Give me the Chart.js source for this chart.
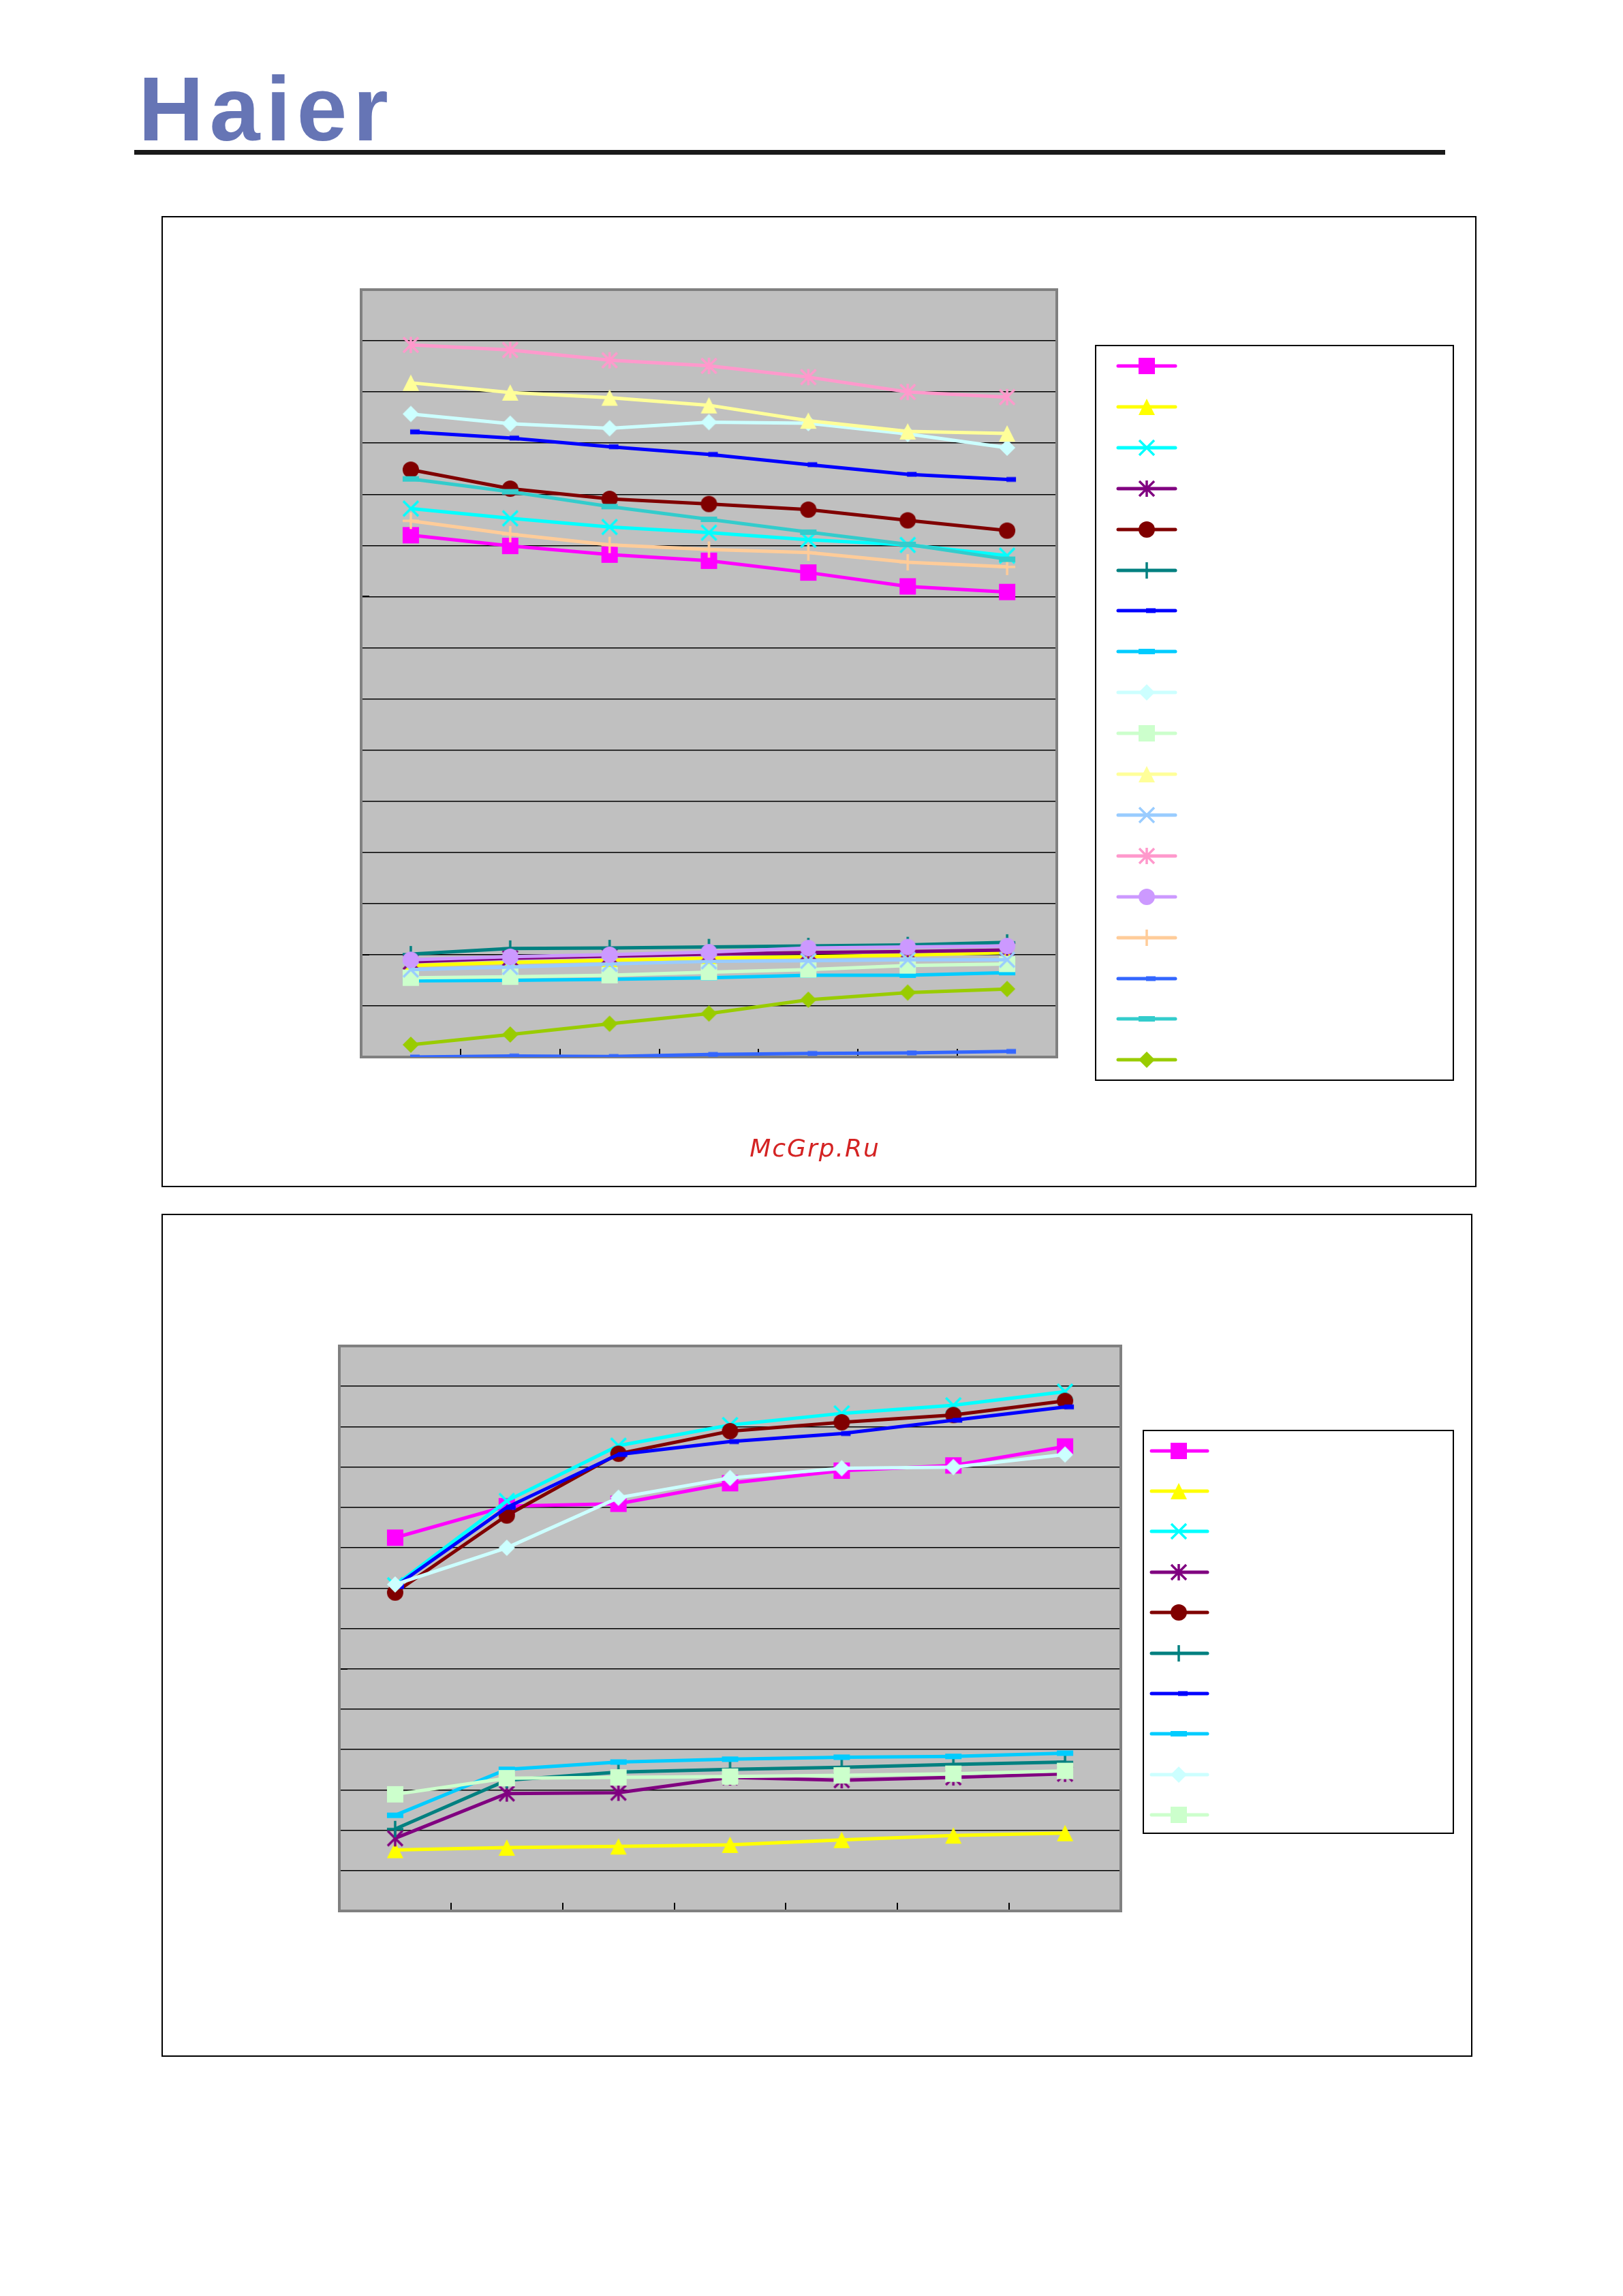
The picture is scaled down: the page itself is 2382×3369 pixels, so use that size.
<!DOCTYPE html>
<html>
<head>
<meta charset="utf-8">
<title>Haier performance curves</title>
<script src="https://cdn.jsdelivr.net/npm/chart.js@4.4.1/dist/chart.umd.min.js"></script>
<style>
  html, body { margin: 0; padding: 0; background: #fff; }
  body { width: 2382px; height: 3369px; position: relative; overflow: hidden; }
  .logo {
    position: absolute; left: 203px; top: 94px;
    font: bold 133px/133px "Liberation Sans", Arial, sans-serif;
    color: #6675B5; letter-spacing: 8.5px;
  }
  .rule { position: absolute; left: 197px; top: 220px; width: 1924px; height: 7px; background: #1a1a1a; }
  .frame { position: absolute; border: 2px solid #000; box-sizing: border-box; }
  canvas { position: absolute; }
  .mark {
    position: absolute; left: 996px; top: 1667px; width: 400px; text-align: center;
    font: oblique 36px/36px "DejaVu Sans", sans-serif; color: #D42323; letter-spacing: 2px;
  }
</style>
</head>
<body>
<div class="logo">Haier</div>
<div class="rule"></div>

<div class="frame" style="left:237px;top:317px;width:1930px;height:1425px"></div>
<canvas id="chart-top" width="1930" height="1425" style="left:237px;top:317px"></canvas>
<div class="mark">McGrp.Ru</div>

<div class="frame" style="left:237px;top:1781px;width:1924px;height:1237px"></div>
<canvas id="chart-bottom" width="1924" height="1237" style="left:237px;top:1781px"></canvas>

<script>
/* ── x categories (no labels are printed in the source) ── */
const categories = ['1', '2', '3', '4', '5', '6', '7'];

/* ── upper chart: 18 series, legend order ── */
const topMagenta     = [1020, 999, 982, 970, 947, 920, 909];
const topYellow      = [179, 185, 189, 193, 196, 199, 204];
const topCyan        = [1072, 1053, 1036, 1025, 1011, 1001, 980];
const topPurple      = [186, 193, 197, 201, 204, 206, 209];
const topDarkRed     = [1148, 1111, 1091, 1081, 1070, 1049, 1029];
const topTeal        = [201, 212, 213, 215, 217, 219, 224];
const topBlue        = [1222, 1210, 1193, 1178, 1158, 1139, 1129];
const topSkyBlue     = [149, 150, 152, 155, 160, 160, 165];
const topLightCyan   = [1257, 1238, 1229, 1241, 1239, 1218, 1191];
const topLightGreen  = [155, 157, 160, 166, 171, 179, 182];
const topLightYellow = [1318, 1299, 1289, 1274, 1244, 1223, 1219];
const topLightBlue   = [171, 176, 182, 187, 188, 190, 190];
const topPink        = [1392, 1382, 1362, 1351, 1329, 1300, 1290];
const topLavender    = [190, 196, 200, 205, 213, 215, 217];
const topPeach       = [1048, 1022, 1001, 992, 986, 967, 958];
const topRoyalBlue   = [0, 2, 1, 5, 7, 8, 11];
const topTurquoise   = [1130, 1105, 1076, 1051, 1026, 1002, 973];
const topYellowGreen = [24, 44, 65, 85, 112, 126, 133];

/* ── lower chart: 10 series ── */
const botMagenta    = [925, 1003, 1009, 1060, 1091, 1104, 1151];
const botYellow     = [151, 157, 160, 164, 176, 187, 193];
const botCyan       = [807, 1016, 1153, 1204, 1233, 1253, 1287];
const botPurple     = [180, 291, 293, 331, 324, 331, 340];
const botDarkRed    = [789, 980, 1133, 1189, 1211, 1229, 1264];
const botTeal       = [203, 324, 344, 351, 356, 363, 369];
const botBlue       = [804, 1000, 1131, 1163, 1183, 1216, 1249];
const botSkyBlue    = [237, 351, 369, 376, 381, 383, 391];
const botLightCyan  = [809, 900, 1024, 1073, 1097, 1100, 1131];
const botLightGreen = [289, 329, 331, 333, 336, 340, 347];

/* ── Excel default series palette + marker cycle ── */
const seriesColors = ['#FF00FF', '#FFFF00', '#00FFFF', '#800080', '#800000', '#008080',
                      '#0000FF', '#00CCFF', '#CCFFFF', '#CCFFCC', '#FFFF99', '#99CCFF',
                      '#FF99CC', '#CC99FF', '#FFCC99', '#3366FF', '#33CCCC', '#99CC00'];
const seriesMarkers = ['square', 'triangle', 'x', 'star', 'circle', 'plus', 'bar', 'dash', 'diamond',
                       'square', 'triangle', 'x', 'star', 'circle', 'plus', 'bar', 'dash', 'diamond'];

/* ── marker glyphs as small canvases (Chart.js centres them on the point) ── */
function makeMarker(kind, color) {
  const c = document.createElement('canvas');
  c.width = 30; c.height = 28;
  const g = c.getContext('2d');
  const cx = 15, cy = 14, h = 12;
  g.fillStyle = color; g.strokeStyle = color; g.lineWidth = 3.5;
  g.beginPath();
  switch (kind) {
    case 'square':   g.rect(cx - h, cy - h, 2 * h, 2 * h); g.fill(); break;
    case 'triangle': g.moveTo(cx, cy - h); g.lineTo(cx + h, cy + h); g.lineTo(cx - h, cy + h); g.closePath(); g.fill(); break;
    case 'diamond':  g.moveTo(cx, cy - h); g.lineTo(cx + h, cy); g.lineTo(cx, cy + h); g.lineTo(cx - h, cy); g.closePath(); g.fill(); break;
    case 'circle':   g.arc(cx, cy, h, 0, Math.PI * 2); g.fill(); break;
    case 'x':
      g.moveTo(cx - h + 1, cy - h + 1); g.lineTo(cx + h - 1, cy + h - 1);
      g.moveTo(cx + h - 1, cy - h + 1); g.lineTo(cx - h + 1, cy + h - 1); g.stroke(); break;
    case 'star':
      g.moveTo(cx - h + 1, cy - h + 1); g.lineTo(cx + h - 1, cy + h - 1);
      g.moveTo(cx + h - 1, cy - h + 1); g.lineTo(cx - h + 1, cy + h - 1);
      g.moveTo(cx, cy - h); g.lineTo(cx, cy + h); g.stroke(); break;
    case 'plus':
      g.moveTo(cx, cy - h); g.lineTo(cx, cy + h);
      g.moveTo(cx - h, cy); g.lineTo(cx + h, cy); g.stroke(); break;
    case 'bar':      g.rect(cx - 1, cy - 3.5, 14, 7); g.fill(); break;
    case 'dash':     g.rect(cx - 12, cy - 4, 24, 8); g.fill(); break;
  }
  return c;
}

function buildDatasets(series, width) {
  return series.map((data, i) => ({
    data,
    borderColor: seriesColors[i],
    backgroundColor: seriesColors[i],
    borderWidth: width,
    pointStyle: makeMarker(seriesMarkers[i], seriesColors[i]),
    pointRadius: 12,
    pointHoverRadius: 12,
    tension: 0,
    fill: false,
    order: series.length - i,   // later series drawn on top, as in Excel
  }));
}

/* ── grey plot area, inside tick marks, plot border ── */
const plotFrame = {
  id: 'plotFrame',
  beforeDraw(chart) {
    const { ctx, chartArea: a } = chart;
    ctx.save();
    ctx.fillStyle = '#C0C0C0';
    ctx.fillRect(a.left, a.top, a.width, a.height);
    ctx.restore();
  },
  beforeDatasetsDraw(chart, args, opts) {
    const { ctx, chartArea: a, scales: { x, y } } = chart;
    ctx.save();
    ctx.strokeStyle = '#000';
    ctx.lineWidth = 2;
    ctx.beginPath();
    for (let i = 1; i < categories.length; i++) {
      const px = Math.round((x.getPixelForValue(i - 1) + x.getPixelForValue(i)) / 2);
      ctx.moveTo(px, a.bottom);
      ctx.lineTo(px, a.bottom - 12);
    }
    (opts.yTicks || []).forEach(v => {
      const py = Math.round(y.getPixelForValue(v));
      ctx.moveTo(a.left, py);
      ctx.lineTo(a.left + 12, py);
    });
    ctx.stroke();
    ctx.strokeStyle = '#808080';
    ctx.lineWidth = 4;
    ctx.strokeRect(a.left, a.top, a.width, a.height);
    ctx.restore();
  },
};

/* ── framed legend without labels (the source prints none) ── */
const boxLegend = {
  id: 'boxLegend',
  afterDraw(chart, args, o) {
    const ctx = chart.ctx;
    ctx.save();
    ctx.strokeStyle = '#000';
    ctx.lineWidth = 2;
    ctx.strokeRect(o.left, o.top, o.width, o.height);
    chart.data.datasets.forEach((ds, i) => {
      const cy = Math.round(o.firstY + i * o.step);
      ctx.strokeStyle = ds.borderColor;
      ctx.lineWidth = ds.borderWidth;
      ctx.lineCap = 'round';
      ctx.beginPath();
      ctx.moveTo(o.lineX0, cy);
      ctx.lineTo(o.lineX1, cy);
      ctx.stroke();
      const img = ds.pointStyle;
      ctx.drawImage(img, o.markX - img.width / 2, cy - img.height / 2);
    });
    ctx.restore();
  },
};

function makeChart(id, series, yMax, padding, yTicks, legend) {
  return new Chart(document.getElementById(id), {
    type: 'line',
    data: { labels: categories, datasets: buildDatasets(series, 5) },
    options: {
      responsive: false,
      devicePixelRatio: 1,
      animation: false,
      events: [],
      layout: { padding, autoPadding: false },
      scales: {
        x: {
          type: 'category',
          offset: true,
          grid: { display: false },
          ticks: { display: false },
          border: { display: false },
        },
        y: {
          min: 0,
          max: yMax,
          ticks: { display: false, stepSize: 100 },
          grid: { color: '#000', lineWidth: 1.5, drawTicks: false },
          border: { display: false },
        },
      },
      plugins: {
        legend: { display: false },
        tooltip: { enabled: false },
        plotFrame: { yTicks },
        boxLegend: legend,
      },
    },
    plugins: [plotFrame, boxLegend],
  });
}

makeChart('chart-top',
  [topMagenta, topYellow, topCyan, topPurple, topDarkRed, topTeal, topBlue, topSkyBlue, topLightCyan,
   topLightGreen, topLightYellow, topLightBlue, topPink, topLavender, topPeach, topRoyalBlue, topTurquoise, topYellowGreen],
  1500,
  { left: 293, top: 108, right: 616, bottom: 183 },
  [1500, 900, 200],
  { left: 1371, top: 190, width: 525, height: 1078, firstY: 220, step: 59.9, lineX0: 1404, lineX1: 1488, markX: 1446 });

makeChart('chart-bottom',
  [botMagenta, botYellow, botCyan, botPurple, botDarkRed, botTeal, botBlue, botSkyBlue, botLightCyan, botLightGreen],
  1400,
  { left: 261, top: 194, right: 516, bottom: 206 },
  [1400, 600],
  { left: 1441, top: 318, width: 455, height: 591, firstY: 347.5, step: 59.4, lineX0: 1453, lineX1: 1535, markX: 1493 });
</script>
</body>
</html>
